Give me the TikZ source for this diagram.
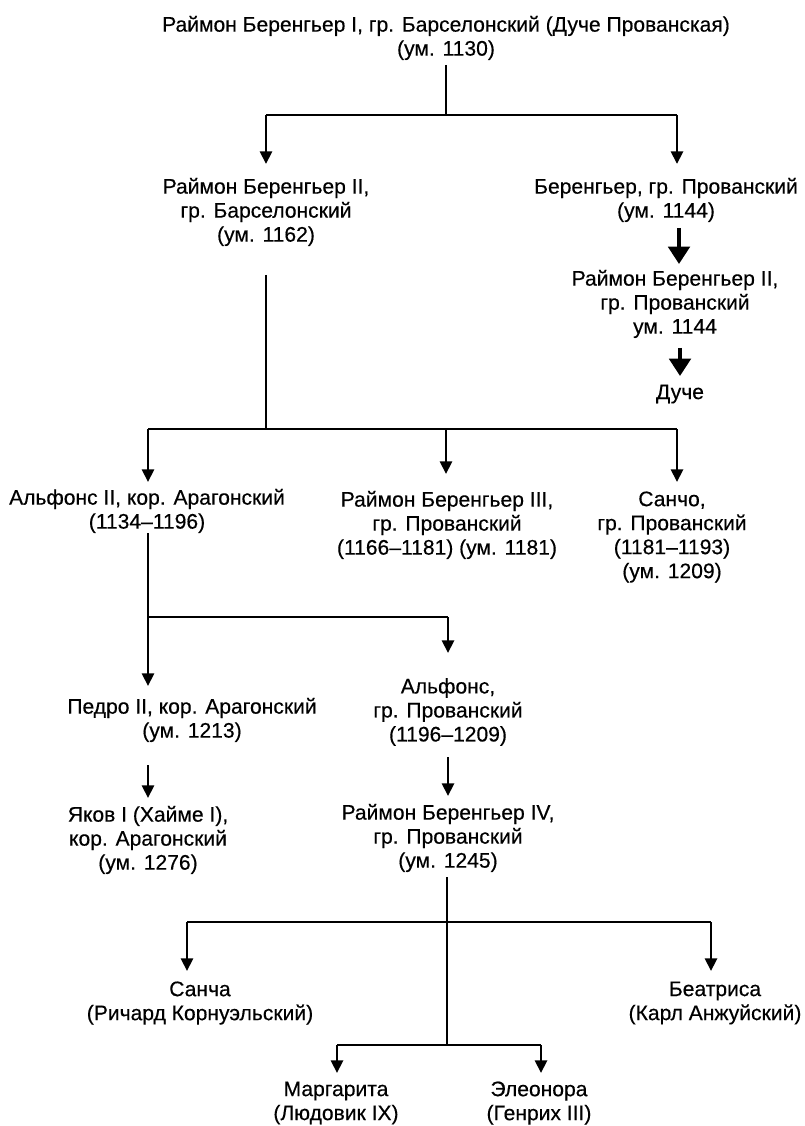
\documentclass[tikz,border=0pt]{standalone}
\usepackage{fontspec}
\setmainfont[FakeBold=0.4]{Liberation Sans}
\usetikzlibrary{arrows.meta}
\begin{document}
\begin{tikzpicture}[x=0.75pt,y=-0.75pt,
  person/.style={align=center,inner sep=0pt,font=\fontsize{15.8}{18}\selectfont},
  conn/.style={line width=2.2pt,line cap=butt},
  arr/.style={conn,-{Triangle[length=9.5pt,width=9pt]}},
  boldarr/.style={line width=3pt,-{Triangle[length=13pt,width=16pt]}}]
\useasboundingbox (0,0) rectangle (804,1126);
% nodes
\node[person] (n0) at (446,38) {Раймон Беренгьер I, гр. Барселонский (Дуче Прованская)\\(ум. 1130)};
\node[person] (n1) at (266,212) {Раймон Беренгьер II,\\гр. Барселонский\\(ум. 1162)};
\node[person] (n2) at (666,200) {Беренгьер, гр. Прованский\\(ум. 1144)};
\node[person] (n3) at (675,304) {Раймон Беренгьер II,\\гр. Прованский\\ум. 1144};
\node[person] (n4) at (680,394) {Дуче};
\node[person] (n5) at (147,511) {Альфонс II, кор. Арагонский\\(1134–1196)};
\node[person] (n6) at (447,525) {Раймон Беренгьер III,\\гр. Прованский\\(1166–1181) (ум. 1181)};
\node[person] (n7) at (672,537) {Санчо,\\гр. Прованский\\(1181–1193)\\(ум. 1209)};
\node[person] (n8) at (192,720) {Педро II, кор. Арагонский\\(ум. 1213)};
\node[person] (n9) at (448,712) {Альфонс,\\гр. Прованский\\(1196–1209)};
\node[person] (n10) at (148,840) {Яков I (Хайме I),\\кор. Арагонский\\(ум. 1276)};
\node[person] (n11) at (448,838) {Раймон Беренгьер IV,\\гр. Прованский\\(ум. 1245)};
\node[person] (n12) at (200,1003) {Санча\\(Ричард Корнуэльский)};
\node[person] (n13) at (715,1003) {Беатриса\\(Карл Анжуйский)};
\node[person] (n14) at (336,1103) {Маргарита\\(Людовик IX)};
\node[person] (n15) at (539,1103) {Элеонора\\(Генрих III)};
% junction coordinates
\coordinate (a0) at (446,65);
\coordinate (j0) at (446,115);
\coordinate (j0l) at (266,115);
\coordinate (j0r) at (677,115);
\coordinate (t1) at (266,164);
\coordinate (t2) at (677,164);
\coordinate (b1s) at (679,228);
\coordinate (b1e) at (679,264);
\coordinate (b2s) at (680,348);
\coordinate (b2e) at (680,376);
\coordinate (a1) at (266,275);
\coordinate (j1) at (266,429);
\coordinate (j1l) at (148,429);
\coordinate (j1m) at (446,429);
\coordinate (j1r) at (677,429);
\coordinate (t5) at (148,482);
\coordinate (t6) at (446,474);
\coordinate (t7) at (677,482);
\coordinate (a5) at (148,533);
\coordinate (j2) at (148,617);
\coordinate (j2r) at (448,617);
\coordinate (t8) at (148,686);
\coordinate (t9) at (448,653);
\coordinate (p8) at (148,765);
\coordinate (t10) at (148,798);
\coordinate (p9) at (448,757);
\coordinate (t11) at (448,796);
\coordinate (a11) at (447,877);
\coordinate (j3) at (447,922);
\coordinate (j3l) at (187,922);
\coordinate (j3r) at (711,922);
\coordinate (t12) at (187,971);
\coordinate (t13) at (711,971);
\coordinate (j4) at (447,1045);
\coordinate (j4l) at (337,1045);
\coordinate (j4r) at (541,1045);
\coordinate (t14) at (337,1073);
\coordinate (t15) at (541,1073);
% connectors
\draw[conn] (a0) -- (j0);
\draw[conn] (j0l) -- (j0r);
\draw[arr] (j0l) -- (t1);
\draw[arr] (j0r) -- (t2);
\draw[boldarr] (b1s) -- (b1e);
\draw[boldarr] (b2s) -- (b2e);
\draw[conn] (a1) -- (j1);
\draw[conn] (j1l) -- (j1r);
\draw[arr] (j1l) -- (t5);
\draw[arr] (j1m) -- (t6);
\draw[arr] (j1r) -- (t7);
\draw[arr] (a5) -- (t8);
\draw[conn] (j2) -- (j2r);
\draw[arr] (j2r) -- (t9);
\draw[arr] (p8) -- (t10);
\draw[arr] (p9) -- (t11);
\draw[conn] (a11) -- (j4);
\draw[conn] (j3l) -- (j3r);
\draw[arr] (j3l) -- (t12);
\draw[arr] (j3r) -- (t13);
\draw[conn] (j4l) -- (j4r);
\draw[arr] (j4l) -- (t14);
\draw[arr] (j4r) -- (t15);
\end{tikzpicture}
\end{document}
